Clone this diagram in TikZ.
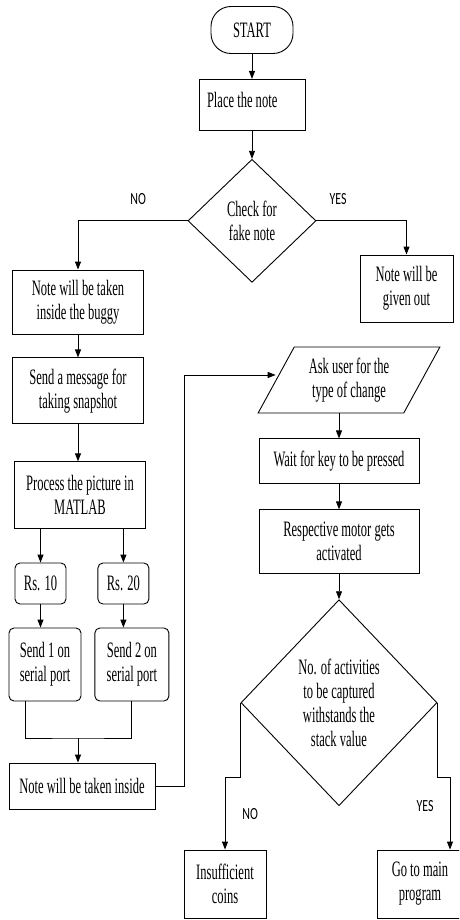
\documentclass[tikz,border=0pt]{standalone}
\usepackage{fontspec}
\setmainfont{Liberation Serif}[FakeStretch=0.57]
\newfontfamily\lblfont{Carlito}[FakeStretch=0.7]
\usetikzlibrary{positioning,arrows.meta,shapes.geometric}

\begin{document}
\begin{tikzpicture}[x=1pt, y=-1pt,
  line width=0.9pt,
  box/.style={draw, align=center, inner sep=2pt, font=\fontsize{22}{24}\selectfont},
  rbox/.style={box, rounded corners=5pt},
  term/.style={box, rounded corners=20pt},
  dec/.style={box, diamond, aspect=1, inner sep=0pt},
  io/.style={box, trapezium, trapezium left angle=60, trapezium right angle=120, trapezium stretches=true},
  lbl/.style={inner sep=0pt, font=\lblfont\fontsize{17}{17}\selectfont},
  ar/.style={-{Triangle[length=8pt,width=6pt]}}
]
\useasboundingbox (0,0) rectangle (459,920);
\clip (0,0) rectangle (459,920);
\node[term, minimum width=82pt, minimum height=47pt] (start) at (252,30) {START};
\node[box, below=25pt of start, inner xsep=8pt, text height=26pt, text depth=21pt] (place) {\makebox[90pt][l]{Place the note}};
\node[dec, below=28pt of place, minimum width=128pt, minimum height=123pt] (check) {Check for\\fake note};
\node[box, minimum width=131pt, minimum height=64pt] (buggy) at (78,302) {Note will be taken\\inside the buggy};
\node[box, below=23pt of buggy, minimum width=131pt, minimum height=66pt] (msg) {Send a message for\\taking snapshot};
\node[box, below=37pt of msg, xshift=2pt, minimum width=131pt, minimum height=67pt] (proc) {Process the picture in\\MATLAB};
\node[rbox, minimum width=51pt, minimum height=41pt] (rs10) at (40.5,583.5) {Rs. 10};
\node[rbox, right=31pt of rs10, minimum width=51pt, minimum height=41pt] (rs20) {Rs. 20};
\node[rbox, minimum width=72pt, minimum height=73pt] (send1) at (45,664.5) {Send 1 on\\serial port};
\node[rbox, right=13pt of send1, minimum width=74pt, minimum height=73pt] (send2) {Send 2 on\\serial port};
\node[box, minimum width=146pt, minimum height=46pt] (inside) at (82,786) {Note will be taken inside};
\node[box, minimum width=93pt, minimum height=67pt] (given) at (406.5,288.5) {Note will be\\given out};
\node[io, minimum width=182pt, minimum height=66pt] (ask) at (349,380) {Ask user for the\\type of change};
\node[box, below=25pt of ask, xshift=-10pt, minimum width=160pt, minimum height=45pt] (wait) {Wait for key to be pressed};
\node[box, below=25pt of wait, minimum width=160pt, minimum height=64pt] (motor) {Respective motor gets\\activated};
\node[dec, below=25pt of motor, minimum width=196pt, minimum height=206pt] (stack) {No. of activities\\to be captured\\withstands the\\stack value};
\node[box, minimum width=82pt, minimum height=68pt] (insuff) at (225,884) {Insufficient\\coins};
\node[box, minimum width=86pt, minimum height=68pt] (gomain) at (420,884) {Go to main\\program};
\foreach \a/\b in {start/place, place/check, buggy/msg, msg/proc, wait/motor, motor/stack}
  \draw[ar] (\a.south) -- (\a.south |- \b.north);
\draw[ar] (wait.north |- ask.south) -- (wait.north);
\draw[ar] (check.west) -| node[lbl, pos=0.225, above=16pt] (no1) {NO} (buggy.north);
\draw[ar] (check.east) -| node[lbl, pos=0.12, above=16pt] (yes1) {YES} (given.north);
\draw[ar] (proc.south -| rs10.north) -- (rs10.north);
\draw[ar] (proc.south -| rs20.north) -- (rs20.north);
\draw[ar] (rs10.south) -- (rs10.south |- send1.north);
\draw[ar] (rs20.south) -- (rs20.south |- send2.north);
\coordinate (join) at (78,738);
\draw ([xshift=-20pt]send1.south) |- (join) -| (send2.south);
\draw[ar] (join) -- (join |- inside.north);
\coordinate (up) at (184,375);
\draw[ar] (inside.east) -| (up) -- (up -| ask.west);
\draw[ar] (stack.west) -- ++(0,75) -| node[lbl, pos=0.75, right=17pt] (no2) {NO} (insuff.north);
\draw[ar] (stack.east) -- ++(0,75) -| node[lbl, pos=0.7, left=16pt] (yes2) {YES} ([xshift=30pt]gomain.north);
\end{tikzpicture}
\end{document}
